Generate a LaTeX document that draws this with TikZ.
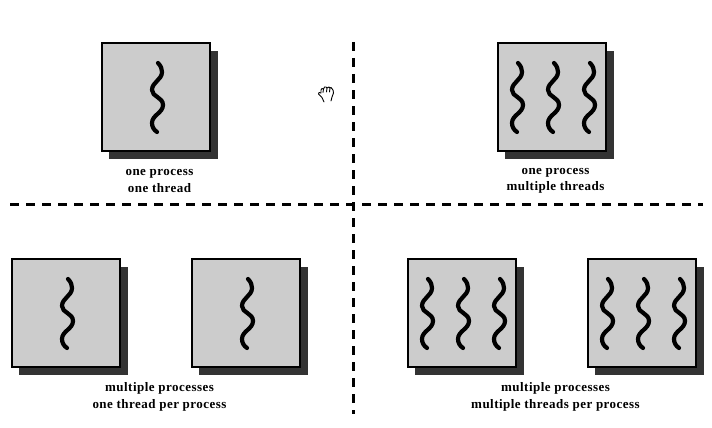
\documentclass[tikz,border=0pt]{standalone}
\usepackage{fontspec}
\setmainfont{Liberation Serif}[LetterSpace=3.6]
\tikzset{
  x=1pt,y=-1pt,
  procbox/.style={draw=black,line width=2pt,fill=boxgray,minimum width=108pt,minimum height=108pt,inner sep=0pt,outer sep=0pt},
  shadow/.style={fill=shadowgray,draw=none},
  threadline/.style={line width=4.2pt,line cap=round,line join=round,black},
  divider/.style={line width=3pt,black,dash pattern=on 9pt off 7pt},
  caption/.style={font=\fontsize{13}{16.5}\selectfont\bfseries,align=center,inner sep=0pt},
  handline/.style={line width=0.9pt,black,line cap=round,line join=round},
  pics/wave/.style={code={
    \draw[threadline] (2,-34) .. controls (5,-31) and (6,-28) .. (6,-25)
      .. controls (6,-17) and (-4,-15) .. (-4,-7)
      .. controls (-4,0) and (7,0) .. (7,8)
      .. controls (7,16) and (-4,18) .. (-4,26)
      .. controls (-4,30) and (-2,33) .. (1,35);
  }},
}
\definecolor{boxgray}{gray}{0.8}
\definecolor{shadowgray}{gray}{0.2}
\newcommand{\procb}[3]{%
  \fill[shadow] (#2+7,#3+8) rectangle (#2+116,#3+116);
  \node[procbox,anchor=north west] (#1) at (#2,#3) {};
}
\begin{document}
\begin{tikzpicture}
\useasboundingbox (0,0) rectangle (712,428);
\coordinate (hl) at (10,204.5);
\coordinate (hr) at (703,204.5);
\coordinate (vt) at (353.5,42);
\coordinate (vb) at (353.5,414);
\draw[divider] (hl) -- (hr);
\draw[divider] (vt) -- (vb);

\procb{a}{102}{43}
\path (a.center) ++(0,0) pic {wave};
\node[caption] (ta) at (159.5,181) {one process\\one thread};

\procb{b}{498}{43}
\path (b.center) ++(-36,0) pic {wave};
\path (b.center) ++(0,0) pic {wave};
\path (b.center) ++(36,0) pic {wave};
\node[caption] (tb) at (555.5,181) {one process\\multiple threads};

\procb{c}{12}{259}
\procb{d}{192}{259}
\path (c.center) ++(0,0) pic {wave};
\path (d.center) ++(0,0) pic {wave};
\node[caption] (tc) at (159.5,397) {multiple processes\\one thread per process};

\procb{e}{408}{259}
\procb{f}{588}{259}
\path (e.center) ++(-36,0) pic {wave};
\path (e.center) ++(0,0) pic {wave};
\path (e.center) ++(36,0) pic {wave};
\path (f.center) ++(-36,0) pic {wave};
\path (f.center) ++(0,0) pic {wave};
\path (f.center) ++(36,0) pic {wave};
\node[caption] (te) at (555.5,397) {multiple processes\\multiple threads per process};

\draw[handline] (324,102) -- (322,97.5) -- (318.5,94) -- (319,92.5) -- (321,93) -- (321,90)
  -- (322,88.5) -- (323.5,89) -- (324.5,87) -- (326,87) -- (327,88) -- (329,87) -- (330,88)
  -- (331,87.5) -- (333,90) -- (333.5,93) -- (332,97) -- (331,101);
\draw[handline] (323.5,89) -- (323,92.5);
\draw[handline] (327,88) -- (326.5,92);
\draw[handline] (330,88) -- (329.5,92);
\end{tikzpicture}
\end{document}
